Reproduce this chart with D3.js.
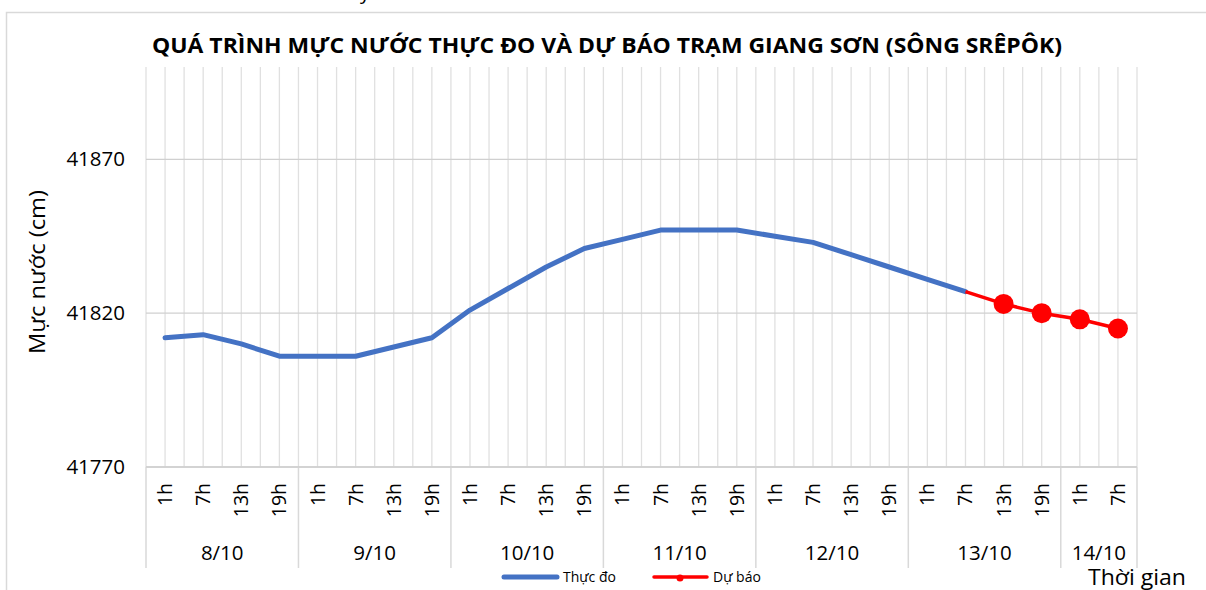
<!DOCTYPE html>
<html>
<head>
<meta charset="utf-8">
<script src="https://cdn.jsdelivr.net/npm/d3@7"></script>
<style>
  body { margin: 0; background: #fff; }
  text { font-family: "Open Sans", "Noto Sans", sans-serif; fill: #000; }
</style>
</head>
<body>
<div id="chart"></div>
<script>
// hours of each observation, grouped by day
const hours = ["1h", "7h", "13h", "19h"];
const days = ["8/10", "9/10", "10/10", "11/10", "12/10", "13/10", "14/10"];
const slotsPerDay = [4, 4, 4, 4, 4, 4, 2];

// water level (cm), measured
const measured = [41812, 41813, 41810, 41806, 41806, 41806, 41809, 41812,
	41821, 41828, 41835, 41841, 41844, 41847, 41847, 41847,
	41845, 41843, 41839, 41835, 41831, 41827];
// forecast, starts at the last measured point
const forecastStart = 21;
const forecast = [41827, 41823, 41820, 41818, 41815];

const yTicks = [41770, 41820, 41870];

const width = 1206, height = 590;
const margin = { top: 67, right: 69, bottom: 123, left: 146 };

// one entry per slot on the x axis
const slots = [];
days.forEach((d, di) => {
	for (let k = 0; k < slotsPerDay[di]; k++) slots.push({ day: d, hour: hours[k] });
});

const svg = d3.select('#chart')
	.append('svg')
	.attr('width', width)
	.attr('height', height);

// chart frame
svg.append('rect')
	.attr('x', 6.5).attr('y', 12.5)
	.attr('width', width + 20).attr('height', height + 20)
	.attr('fill', 'none')
	.attr('stroke', '#d9d9d9')
	.attr('stroke-width', 1.5);

// clipped text bit above the frame
svg.append('text').attr('x', 360).attr('y', -1).attr('font-size', 20).text('y');

const x = d3.scaleBand()
	.domain(d3.range(slots.length))
	.range([margin.left, width - margin.right]);
const bw = x.bandwidth();
const cx = i => x(i) + bw / 2;

const y = d3.scaleLinear()
	.domain([41770, 41900])
	.range([height - margin.bottom, margin.top]);

const plotTop = margin.top, plotBottom = height - margin.bottom;

// vertical gridlines: slot edges and slot centres
const vLines = [];
for (let i = 0; i < slots.length; i++) { vLines.push(x(i)); vLines.push(cx(i)); }
vLines.push(width - margin.right);
svg.append('g')
	.selectAll('line')
	.data(vLines)
	.enter()
	.append('line')
	.attr('x1', d => d).attr('x2', d => d)
	.attr('y1', plotTop).attr('y2', plotBottom)
	.attr('stroke', '#e0e0e0')
	.attr('stroke-width', 1.3);

// horizontal gridlines
svg.append('g')
	.selectAll('line')
	.data(yTicks)
	.enter()
	.append('line')
	.attr('x1', margin.left).attr('x2', width - margin.right)
	.attr('y1', d => y(d)).attr('y2', d => y(d))
	.attr('stroke', '#d0d0d0')
	.attr('stroke-width', 1.3);

// y tick labels
svg.append('g')
	.selectAll('text')
	.data(yTicks)
	.enter()
	.append('text')
	.attr('x', 125)
	.attr('y', d => y(d) + 7)
	.attr('text-anchor', 'end')
	.attr('font-size', 20.5)
	.text(d => d);

// y axis title
svg.append('text')
	.attr('transform', `translate(45,${272}) rotate(-90)`)
	.attr('text-anchor', 'middle')
	.attr('font-size', 22)
	.attr('textLength', 164)
	.attr('lengthAdjust', 'spacingAndGlyphs')
	.text('Mực nước (cm)');

// day separators under the axis
const dayEdges = [0];
slotsPerDay.reduce((acc, n) => { dayEdges.push(acc + n); return acc + n; }, 0);
svg.append('g')
	.selectAll('line')
	.data(dayEdges)
	.enter()
	.append('line')
	.attr('x1', d => d < slots.length ? x(d) : width - margin.right)
	.attr('x2', d => d < slots.length ? x(d) : width - margin.right)
	.attr('y1', plotBottom).attr('y2', 568)
	.attr('stroke', '#d9d9d9')
	.attr('stroke-width', 1.5);

// hour labels, rotated
svg.append('g')
	.selectAll('text')
	.data(slots)
	.enter()
	.append('text')
	.attr('transform', (d, i) => `translate(${cx(i) + 7},${483}) rotate(-90)`)
	.attr('text-anchor', 'end')
	.attr('font-size', 19.5)
	.text(d => d.hour);

// day labels
svg.append('g')
	.selectAll('text')
	.data(days)
	.enter()
	.append('text')
	.attr('x', (d, i) => {
		const a = dayEdges[i], b = dayEdges[i + 1];
		const xa = x(a), xb = b < slots.length ? x(b) : width - margin.right;
		return (xa + xb) / 2;
	})
	.attr('y', 560)
	.attr('text-anchor', 'middle')
	.attr('font-size', 20.5)
	.text(d => d);

// x axis line
svg.append('line')
	.attr('x1', margin.left).attr('x2', width - margin.right)
	.attr('y1', plotBottom).attr('y2', plotBottom)
	.attr('stroke', '#d0d0d0')
	.attr('stroke-width', 1.5);

// measured line
const line = d3.line()
	.x(d => cx(d.i))
	.y(d => y(d.v));

svg.append('path')
	.datum(measured.map((v, i) => ({ i, v })))
	.attr('d', line)
	.attr('fill', 'none')
	.attr('stroke', '#4472C4')
	.attr('stroke-width', 5)
	.attr('stroke-linejoin', 'round')
	.attr('stroke-linecap', 'round');

// forecast line + markers
const fData = forecast.map((v, k) => ({ i: forecastStart + k, v }));
svg.append('path')
	.datum(fData)
	.attr('d', line)
	.attr('fill', 'none')
	.attr('stroke', '#FF0000')
	.attr('stroke-width', 3.5)
	.attr('stroke-linejoin', 'round');

svg.append('g')
	.selectAll('circle')
	.data(fData.slice(1))
	.enter()
	.append('circle')
	.attr('cx', d => cx(d.i))
	.attr('cy', d => y(d.v))
	.attr('r', 10)
	.attr('fill', '#FF0000');

// title
svg.append('text')
	.attr('x', 607)
	.attr('y', 53)
	.attr('text-anchor', 'middle')
	.attr('font-size', 21)
	.attr('font-weight', 'bold')
	.attr('textLength', 910)
	.attr('lengthAdjust', 'spacingAndGlyphs')
	.text('QUÁ TRÌNH MỰC NƯỚC THỰC ĐO VÀ DỰ BÁO TRẠM GIANG SƠN (SÔNG SRÊPÔK)');

// legend
const legend = svg.append('g').attr('transform', 'translate(0,577)');
legend.append('line')
	.attr('x1', 504).attr('x2', 557).attr('y1', 0).attr('y2', 0)
	.attr('stroke', '#4472C4').attr('stroke-width', 5).attr('stroke-linecap', 'round');
legend.append('text').attr('x', 563).attr('y', 5).attr('font-size', 14).text('Thực đo');
legend.append('line')
	.attr('x1', 654).attr('x2', 707).attr('y1', 0).attr('y2', 0)
	.attr('stroke', '#FF0000').attr('stroke-width', 3.5).attr('stroke-linecap', 'round');
legend.append('circle').attr('cx', 680).attr('cy', 1).attr('r', 3.5).attr('fill', '#FF0000');
legend.append('text').attr('x', 713).attr('y', 5).attr('font-size', 14).text('Dự báo');

// x axis title
svg.append('text')
	.attr('x', 1088)
	.attr('y', 585)
	.attr('font-size', 22)
	.attr('textLength', 98)
	.attr('lengthAdjust', 'spacingAndGlyphs')
	.text('Thời gian');
</script>
</body>
</html>
